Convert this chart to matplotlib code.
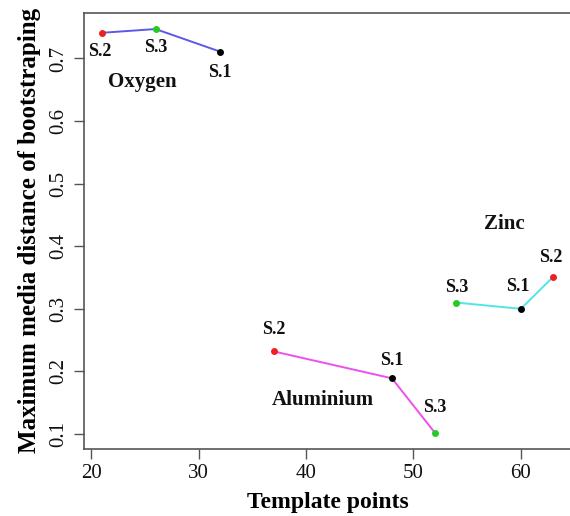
import matplotlib
matplotlib.use("Agg")
import matplotlib.pyplot as plt

plt.rcParams["font.family"] = ["Liberation Serif", "DejaVu Serif"]

# ── Data ──────────────────────────────────────────────────────────────────────
groups = ["Oxygen", "Aluminium", "Zinc"]
samples = ["S.1", "S.2", "S.3"]

oxygen_x = [32, 21, 26]
oxygen_y = [0.711, 0.741, 0.747]

aluminium_x = [48, 37, 52]
aluminium_y = [0.189, 0.232, 0.102]

zinc_x = [60, 63, 54]
zinc_y = [0.300, 0.351, 0.310]

# group name positions (data coords)
group_label_xy = {"Oxygen": (24.8, 0.663), "Aluminium": (41.6, 0.154), "Zinc": (58.5, 0.436)}

# ── Style ─────────────────────────────────────────────────────────────────────
LINE_COLORS = {"Oxygen": "#5a5ae6", "Aluminium": "#ee50ee", "Zinc": "#50e6e6"}
POINT_COLORS = {"S.1": "#000000", "S.2": "#ee2020", "S.3": "#22cc22"}
AXIS = "#555555"

# label offsets in pixels, per group, in sample order S.1, S.2, S.3
offsets = {
    "Oxygen":    [(0, -21), (-2, -19), (0, -18)],
    "Aluminium": [(0, 18), (0, 22), (0, 25)],
    "Zinc":      [(-3, 22), (-2, 19), (0, 15)],
}

series = {
    "Oxygen": (oxygen_x, oxygen_y),
    "Aluminium": (aluminium_x, aluminium_y),
    "Zinc": (zinc_x, zinc_y),
}

fig = plt.figure(figsize=(5.7, 5.16), dpi=100, facecolor="white")
ax = fig.add_axes([0.147, 0.130, 0.855, 0.845])

for g in groups:
    xs, ys = series[g]
    order = sorted(range(len(xs)), key=lambda i: xs[i])
    ax.plot([xs[i] for i in order], [ys[i] for i in order],
            color=LINE_COLORS[g], lw=1.4, zorder=2)
    for i, s in enumerate(samples):
        ax.plot(xs[i], ys[i], "o", color=POINT_COLORS[s], ms=5,
                mec="none", zorder=3)
        ax.annotate(s, (xs[i], ys[i]), xytext=offsets[g][i],
                    textcoords="offset pixels", ha="center", va="center",
                    fontsize=13, fontweight="bold", color="#111111")
    gx, gy = group_label_xy[g]
    ax.text(gx, gy, g, ha="center", va="center", fontsize=15,
            fontweight="bold", color="#111111")

ax.set_xlim(19.32, 64.68)
ax.set_ylim(0.0762, 0.7728)
ax.set_xticks([20, 30, 40, 50, 60])
ax.set_yticks([0.1, 0.2, 0.3, 0.4, 0.5, 0.6, 0.7])

for side in ["left", "bottom", "top"]:
    ax.spines[side].set_color(AXIS)
    ax.spines[side].set_linewidth(1.2)
ax.spines["right"].set_visible(False)

ax.tick_params(direction="out", length=7, width=1.0, color=AXIS,
               labelsize=15, labelcolor="#111111", pad=4)
for lbl in ax.get_yticklabels():
    lbl.set_rotation(90)
    lbl.set_va("center")

ax.set_xlabel("Template points", fontsize=17, fontweight="bold", labelpad=6)
ax.set_ylabel("Maximum media distance of bootstraping", fontsize=18,
              fontweight="bold", labelpad=6)

fig.savefig("out.png", dpi=100, facecolor="white")
